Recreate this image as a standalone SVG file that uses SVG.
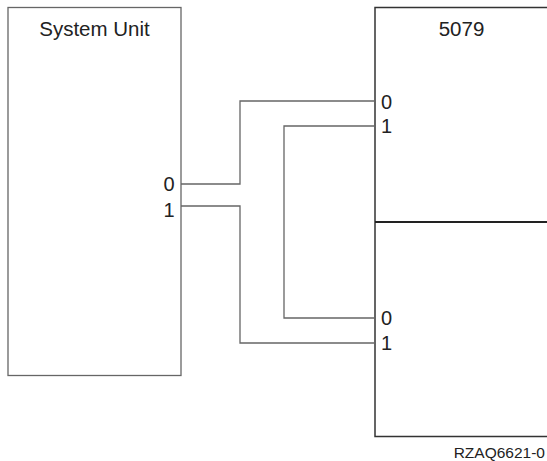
<svg xmlns="http://www.w3.org/2000/svg" width="547" height="461" viewBox="0 0 547 461">
<style>
text{font-family:"Liberation Sans",Arial,sans-serif;fill:#222}
.t{font-size:20.5px}
.p{font-size:20px}
.c{fill:none;stroke:#666;stroke-width:1.3}
</style>
<rect width="547" height="461" fill="#fff"/>
<g id="system-unit">
<rect x="8" y="7.5" width="173" height="368" fill="none" stroke="#666" stroke-width="1.3"/>
<text class="t" x="94.5" y="36" text-anchor="middle">System Unit</text>
<text class="p" x="174.5" y="191" text-anchor="end">0</text>
<text class="p" x="174.5" y="216.5" text-anchor="end">1</text>
</g>
<g id="unit-5079">
<path d="M547 7.5H375V436.5H547" fill="none" stroke="#333" stroke-width="1.5"/>
<line x1="375" y1="222" x2="547" y2="222" stroke="#222" stroke-width="2"/>
<text class="t" x="461.5" y="36" text-anchor="middle">5079</text>
<text class="p" x="381" y="108.5">0</text>
<text class="p" x="381" y="133">1</text>
<text class="p" x="381" y="325">0</text>
<text class="p" x="381" y="350">1</text>
</g>
<g id="connectors">
<path class="c" d="M181 184H240V101H375"/>
<path class="c" d="M181 206H240V343H375"/>
<path class="c" d="M375 126H284V318H375"/>
</g>
<text x="545" y="458" font-size="15.5" text-anchor="end">RZAQ6621-0</text>
</svg>
